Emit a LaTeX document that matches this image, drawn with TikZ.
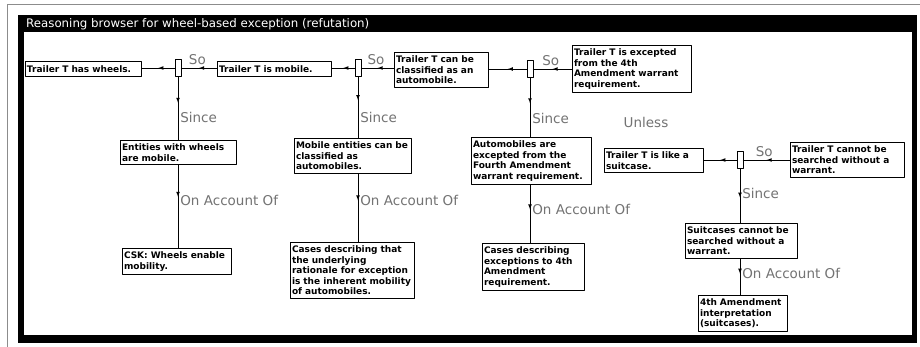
\documentclass[tikz,border=0pt]{standalone}
\usepackage{fontspec}
\setmainfont{DejaVu Sans}
\usetikzlibrary{decorations.markings,backgrounds}
\tikzset{
  claim/.style={draw,line width=0.8pt,fill=white,anchor=north west,align=left,
    inner xsep=1.6pt,inner ysep=3.5pt,font=\fontsize{9}{10.5}\selectfont\bfseries},
  joint/.style={draw,line width=0.6pt,fill=white,minimum width=6pt,minimum height=17pt,inner sep=0pt},
  link/.style={line width=0.7pt,postaction={decorate},
    decoration={markings,mark=at position #1 with {\arrow{latex}}}},
  link/.default=0.5,
  tag/.style={text=black!55,font=\fontsize{13.5}{14}\selectfont,inner sep=1pt},
}
\begin{document}
\begin{tikzpicture}[x=1pt,y=-1pt,line cap=round,line join=round,>=latex]
  \useasboundingbox (0,0) rectangle (920,347);
  % scan edge and window frame
  \draw[black!45,line width=0.8pt] (7,347) -- (7,4) -- (920,4);
  \fill (18,15) rectangle (917,343);
  \fill[white] (24,32) rectangle (912,335);
  \node[anchor=west,text=white,inner sep=0pt,font=\fontsize{11.8}{13}\selectfont] (title) at (26,24)
    {Reasoning browser for wheel-based exception (refutation)};
  % top row of claims
  \node[claim,text width=113pt,minimum height=15pt] (b1) at (25,61) {Trailer T has wheels.};
  \node[claim,text width=111pt,minimum height=15pt] (b2) at (217,61) {Trailer T is mobile.};
  \node[claim,text width=91pt] (b3) at (394,52) {Trailer T can be\\classified as an\\automobile.};
  \node[claim,text width=116pt] (b4) at (572,45) {Trailer T is excepted\\from the 4th\\Amendment warrant\\requirement.};
  % warrants
  \node[claim,text width=113pt] (w1) at (120,140) {Entities with wheels\\are mobile.};
  \node[claim,text width=114pt] (w2) at (294,138) {Mobile entities can be\\classified as\\automobiles.};
  \node[claim,text width=117pt] (w3) at (471,137) {Automobiles are\\excepted from the\\Fourth Amendment\\warrant requirement.};
  % backings
  \node[claim,text width=106pt] (e1) at (122,248) {CSK: Wheels enable\\mobility.};
  \node[claim,text width=121pt] (e2) at (290,242) {Cases describing that\\the underlying\\rationale for exception\\is the inherent mobility\\of automobiles.};
  \node[claim,text width=99pt] (e3) at (482,243) {Cases describing\\exceptions to 4th\\Amendment\\requirement.};
  % rebuttal
  \node[claim,text width=96pt] (s1) at (604,148) {Trailer T is like a\\suitcase.};
  \node[claim,text width=111pt] (s2) at (790,142) {Trailer T cannot be\\searched without a\\warrant.};
  \node[claim,text width=109pt] (su) at (685,223) {Suitcases cannot be\\searched without a\\warrant.};
  \node[claim,text width=86pt] (am) at (698,295) {4th Amendment\\interpretation\\(suitcases).};
  % junctions
  \node[joint] (j1) at (178,68) {};
  \node[joint] (j2) at (358,68) {};
  \node[joint] (j3) at (530,69) {};
  \node[joint] (j4) at (740,160) {};
  % so links
  \draw[link] (j1.west) -- (j1.west -| b1.east);
  \draw[link] (j1.east -| b2.west) -- (j1.east) node[tag,pos=.55,above=2pt] {So};
  \draw[link] (j2.west) -- (j2.west -| b2.east);
  \draw[link] (j2.east -| b3.west) -- (j2.east) node[tag,pos=.55,above=2pt] {So};
  \draw[link] (j3.west) -- (j3.west -| b3.east);
  \draw[link] (j3.east -| b4.west) -- (j3.east) node[tag,pos=.55,above=2pt] {So};
  \draw[link] (j4.west) -- (j4.west -| s1.east);
  \draw[link] (j4.east -| s2.west) -- (j4.east) node[tag,pos=.55,above=2pt] {So};
  % since / on account of
  \draw[link=.41] (j1.south) -- (j1.south |- w1.north) node[tag,pos=.65,right=1pt] {Since};
  \draw[link=.38] (j1.south |- w1.south) -- (j1.south |- e1.north) node[tag,pos=.42,right=1pt] {On Account Of};
  \draw[link=.38] (j2.south) -- (j2.south |- w2.north) node[tag,pos=.67,right=1pt] {Since};
  \draw[link=.39] (j2.south |- w2.south) -- (j2.south |- e2.north) node[tag,pos=.39,right=1pt] {On Account Of};
  \draw[link=.43] (j3.south) -- (j3.south |- w3.north) node[tag,pos=.68,right=1pt] {Since};
  \draw[link=.42] (j3.south |- w3.south) -- (j3.south |- e3.north) node[tag,pos=.42,right=1pt] {On Account Of};
  \draw[link=.53] (j4.south) -- (j4.south |- su.north) node[tag,pos=.45,right=1pt] {Since};
  \draw[link=.41] (j4.south |- su.south) -- (j4.south |- am.north) node[tag,pos=.41,right=1pt] {On Account Of};
  % unless
  \begin{pgfonlayer}{background}
    \draw[black!60,line width=0.6pt,dotted] (j3.south east) -- (s1.west);
  \end{pgfonlayer}
  \node[tag] (unless) at (646,122) {Unless};
\end{tikzpicture}
\end{document}
